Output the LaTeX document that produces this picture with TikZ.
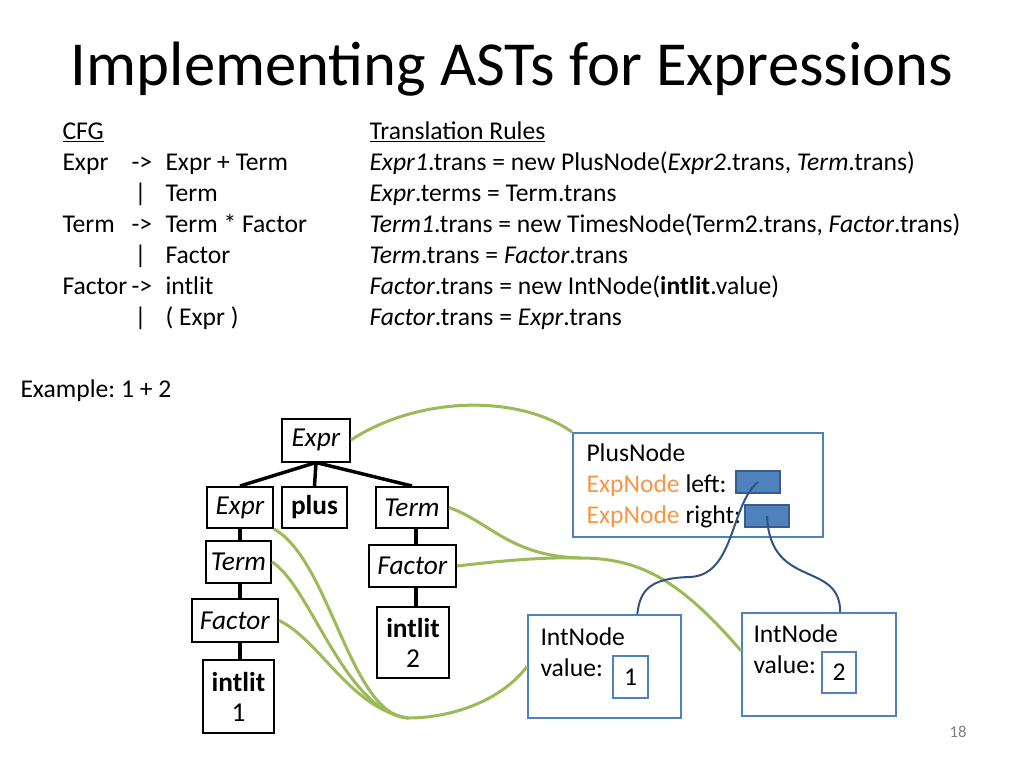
\documentclass[tikz,border=0pt]{standalone}
\usepackage{fontspec}
\setmainfont{Carlito}
\usetikzlibrary{positioning}

\definecolor{treeGreen}{RGB}{155,187,89}
\definecolor{boxBlue}{RGB}{79,129,189}
\definecolor{slotBlue}{RGB}{56,93,138}
\definecolor{linkBlue}{RGB}{46,84,130}
\definecolor{expOrange}{RGB}{247,150,70}

\tikzset{every picture/.style={line width=0.75pt}}
\tikzset{
  sz/.style 2 args={minimum width=#1*0.75pt, minimum height=#2*0.75pt},
  txt/.style={font=\fontsize{19.2}{23}\selectfont, anchor=base west, inner sep=0pt},
  ast/.style={draw, line width=1.5pt, font=\fontsize{20.5}{22.5}\selectfont, inner sep=0pt, align=center},
  obj/.style={draw=boxBlue, line width=1.5pt, inner sep=0pt},
  slot/.style={draw=slotBlue, fill=boxBlue, line width=1.5pt, inner sep=0pt, sz={44}{22}},
  edge/.style={line width=2.6pt},
  trans/.style={draw=treeGreen, line width=2.25pt},
  ref/.style={draw=linkBlue, line width=1.5pt}
}

\begin{document}
\frenchspacing
\begin{tikzpicture}[x=0.75pt,y=0.75pt,yscale=-1,xscale=1]
	\useasboundingbox (0,0) rectangle (1024,768);
	
	% Text Node
	\node (title) [font=\fontsize{47}{50}\selectfont, anchor=base, inner sep=0pt] at (512,85) {Implementing ASTs for Expressions};
	
	% Text Node
	\node (cfgHead) [txt] at (62,139) {\underline{CFG}};
	\node (exprLhs) [txt] at (62,170) {Expr};
	\node (exprArr) [txt] at (131,170) {->};
	\node (exprRhsA) [txt] at (165,170) {Expr + Term};
	\node (exprBar) [txt] at (134,201) {|};
	\node (exprRhsB) [txt] at (165,201) {Term};
	\node (termLhs) [txt] at (62,232) {Term};
	\node (termArr) [txt] at (131,232) {->};
	\node (termRhsA) [txt] at (165,232) {Term * Factor};
	\node (termBar) [txt] at (134,263) {|};
	\node (termRhsB) [txt] at (165,263) {Factor};
	\node (factLhs) [txt] at (62,294) {Factor};
	\node (factArr) [txt] at (131,294) {->};
	\node (factRhsA) [txt] at (165,294) {intlit};
	\node (factBar) [txt] at (134,325) {|};
	\node (factRhsB) [txt] at (165,325) {( Expr )};
	
	% Text Node
	\node (rulesHead) [txt] at (369,139) {\underline{Translation Rules}};
	\node (ruleA) [txt] at (369,170) {\textit{Expr1}.trans = new PlusNode(\textit{Expr2}.trans, \textit{Term}.trans)};
	\node (ruleB) [txt] at (369,201) {\textit{Expr}.terms = Term.trans};
	\node (ruleC) [txt] at (369,232) {\textit{Term1}.trans = new TimesNode(Term2.trans, \textit{Factor}.trans)};
	\node (ruleD) [txt] at (369,263) {\textit{Term}.trans = \textit{Factor}.trans};
	\node (ruleE) [txt] at (369,294) {\textit{Factor}.trans = new IntNode(\textbf{intlit}.value)};
	\node (ruleF) [txt] at (369,325) {\textit{Factor}.trans = \textit{Expr}.trans};
	
	% Text Node
	\node (example) [txt] at (20,397) {Example: 1 + 2};
	
	%Shape: parse tree
	\node (expr) [ast, sz={68}{43}] at (316,440) {\textit{Expr}};
	\node (exprL) [ast, sz={66}{41}] at (240,507.5) {\textit{Expr}};
	\node (plus) [ast, sz={65}{41}] at (314.5,507.5) {\textbf{plus}};
	\node (term) [ast, sz={72}{41}] at (412,507.5) {\textit{Term}};
	\node (termL) [ast, sz={65}{42}] at (238.5,562) {\textit{Term}};
	\node (factorR) [ast, sz={87}{42}] at (412.5,566) {\textit{Factor}};
	\node (factorL) [ast, sz={86}{43}] at (235,620.5) {\textit{Factor}};
	\node (intlitR) [ast, sz={72}{71}] at (413,642.5) {\textbf{intlit}\\2};
	\node (intlitL) [ast, sz={71}{73}] at (238.5,696.5) {\textbf{intlit}\\1};
	
	%Straight Lines
	\draw [edge] (expr.south) -- (exprL.north);
	\draw [edge] (expr.south) -- (plus.north);
	\draw [edge] (expr.south) -- (term.north);
	\draw [edge] (exprL.south) -- (exprL.south |- termL.north);
	\draw [edge] (exprL.south |- termL.south) -- (exprL.south |- factorL.north);
	\draw [edge] (exprL.south |- factorL.south) -- (exprL.south |- intlitL.north);
	\draw [edge] ([xshift=3pt]term.south) -- ([xshift=3pt]term.south |- factorR.north);
	\draw [edge] ([xshift=3pt]term.south |- factorR.south) -- ([xshift=3pt]term.south |- intlitR.north);
	
	%Shape: Rectangle
	\node (plusNode) [obj, sz={250}{104}] at (698,485) {};
	\node (slotL) [slot] at (758,482) {};
	\node (slotR) [slot] at (767,516) {};
	\node (int1) [obj, sz={153}{103}] at (604.5,666.5) {};
	\node (val1) [obj, sz={35}{42}, font=\fontsize{19.2}{23}\selectfont] at (630.5,677) {1};
	\node (int2) [obj, sz={154}{103}] at (819,664.5) {};
	\node (val2) [obj, sz={34}{41}, font=\fontsize{19.2}{23}\selectfont] at (839,672.5) {2};
	
	% Text Node
	\node (plusName) [txt] at (586,461) {PlusNode};
	\node (leftField) [txt] at (586,492) {\textcolor{expOrange}{ExpNode} left:};
	\node (rightField) [txt] at (586,523) {\textcolor{expOrange}{ExpNode} right:};
	\node (int1Name) [txt] at (540,645) {IntNode};
	\node (int1Val) [txt] at (540,676) {value:};
	\node (int2Name) [txt] at (753,642) {IntNode};
	\node (int2Val) [txt] at (753,673) {value:};
	
	% Text Node
	\node (pageNo) [font=\fontsize{12.5}{14}\selectfont, text=gray, inner sep=0pt] at (958,732) {18};
	
	%Curve Lines
	\coordinate (mergeL) at (408,718);
	\coordinate (mergeR) at (580,558);
	\draw [trans] (expr.east) .. controls (420,395) and (520,395) .. (plusNode.north west);
	\draw [trans] (term.east) .. controls (490,522) and (510,556) .. (mergeR) .. controls (640,558) and (680,580) .. (int2.170);
	\draw [trans] (factorR.east) .. controls (500,561) and (540,557) .. (mergeR);
	\draw [trans] (exprL.south east) .. controls (330,560) and (350,715) .. (mergeL);
	\draw [trans] (termL.east) .. controls (310,585) and (345,712) .. (mergeL);
	\draw [trans] (factorL.east) .. controls (320,640) and (350,708) .. (mergeL);
	\draw [trans] (mergeL) .. controls (450,718) and (500,702) .. (int1.west);
	
	%Curve Lines
	\draw [ref] (slotL.center) .. controls (730,505) and (735,575) .. (690,577) .. controls (650,578) and (640,590) .. (int1.58);
	\draw [ref] (slotR.center) .. controls (770,590) and (840,560) .. (int2.68);
	
\end{tikzpicture}
\end{document}
